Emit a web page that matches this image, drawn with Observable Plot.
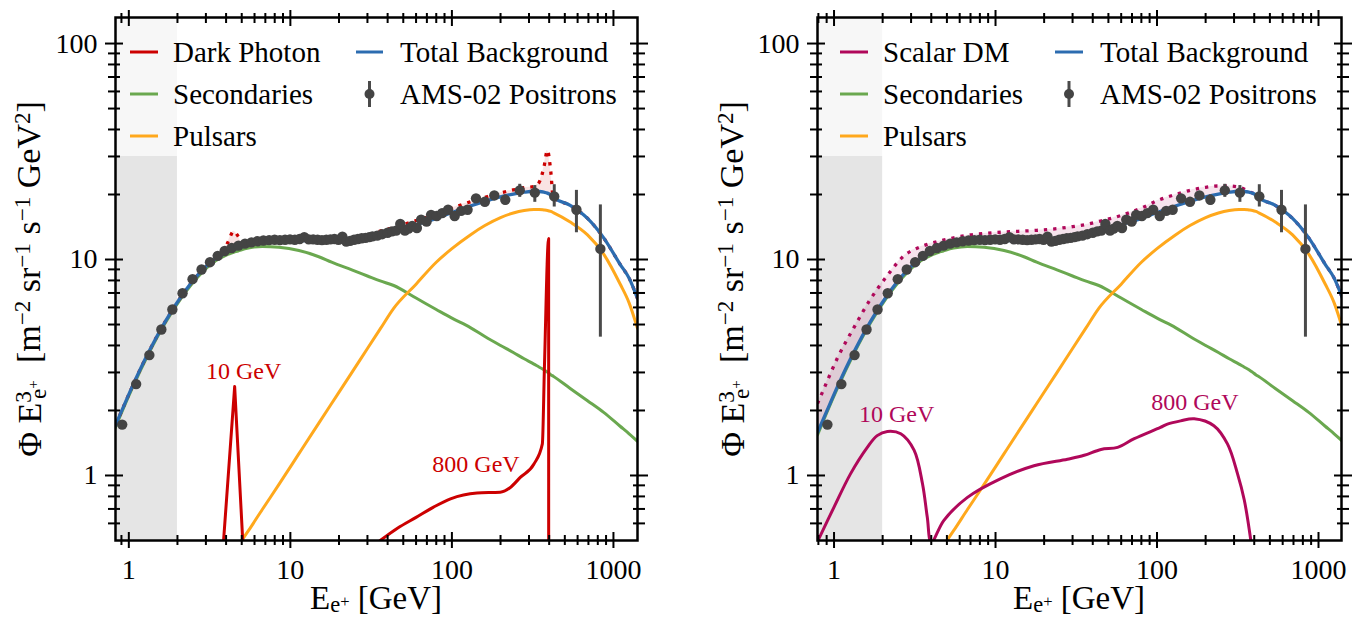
<!DOCTYPE html>
<html>
<head>
<meta charset="utf-8">
<script src="https://cdn.jsdelivr.net/npm/d3@7"></script>
<script src="https://cdn.jsdelivr.net/npm/@observablehq/plot@0.6"></script>
<style>
  html, body { margin: 0; padding: 0; background: #fff; }
  #fig { position: relative; width: 1364px; height: 618px; overflow: hidden; }
  .panel { position: absolute; top: 0; }
  .panel svg { overflow: visible; }
</style>
</head>
<body>
<div id="fig"></div>
<script>
// ---------------------------------------------------------------------------
// Positron spectrum E^3 * flux  [m^-2 sr^-1 s^-1 GeV^2]
// ---------------------------------------------------------------------------

// Shared energy grid (GeV) for the background model curves
const energy = [0.79, 0.9, 1.05, 1.33, 1.68, 2.13, 2.71, 3.43, 3.78, 4.1, 4.46, 4.75, 5.0, 5.5, 6.7, 8.5, 11.3, 15, 18, 24, 30, 36, 43.6, 60, 80, 100, 130, 160, 200, 240, 280, 322, 346, 371, 390, 409, 424, 540, 691, 870, 1100, 1250, 1409];

const secondaries = [1.54, 1.95, 2.54, 3.68, 5.08, 6.7, 8.4, 9.85, 10.25, 10.55, 10.8, 10.95, 11.1, 11.3, 11.5, 11.4, 11.0, 10.3, 9.72, 8.95, 8.39, 7.96, 7.58, 6.63, 5.87, 5.35, 4.84, 4.4, 4.0, 3.71, 3.47, 3.28, 3.18, 3.09, 3.01, 2.93, 2.88, 2.53, 2.22, 1.96, 1.69, 1.56, 1.44];

const pulsars = [null, null, null, null, null, null, null, null, null, null, null, null, 0.5, 0.555, 0.696, 0.909, 1.262, 1.748, 2.154, 2.995, 3.87, 4.77, 5.94, 7.69, 9.71, 11.23, 13.0, 14.36, 15.63, 16.42, 16.86, 17.05, 17.05, 16.96, 16.87, 16.7, 16.5, 14.9, 13.0, 10.6, 7.7, 6.3, 4.8];

const totalBackground = [1.58, 1.98, 2.58, 3.74, 5.16, 6.81, 8.58, 10.07, 10.5, 10.85, 11.1, 11.3, 11.45, 11.7, 11.95, 12.1, 12.2, 12.3, 12.35, 12.55, 12.8, 13.05, 13.5, 14.5, 15.5, 16.5, 17.7, 18.6, 19.5, 20.1, 20.5, 20.7, 20.65, 20.5, 20.3, 19.9, 19.4, 17.8, 15.5, 12.6, 9.5, 8.2, 6.6];

// Background + signal on the same grid
const darkPhotonTotal = [1.58, 1.98, 2.58, 3.74, 5.16, 6.81, 8.58, 10.07, 10.6, 12.0, 13.5, 12.8, 12.0, 11.75, 11.95, 12.1, 12.2, 12.3, 12.35, 12.55, 12.8, 13.55, 14.05, 15.15, 16.2, 17.3, 18.5, 19.4, 20.35, 21.0, 21.5, 21.8, 22.7, 26.7, 32.0, 25.7, 19.4, 17.8, 15.5, 12.6, 9.5, 8.2, 6.6];

const scalarTotal = [2.15, 2.7, 3.5, 4.85, 6.55, 8.4, 10.4, 11.45, 11.75, 11.95, 12.15, 12.3, 12.4, 12.6, 12.95, 13.2, 13.4, 13.55, 13.65, 13.9, 14.2, 14.5, 15.0, 16.0, 17.3, 18.7, 20.0, 20.9, 21.6, 21.9, 21.9, 21.6, 21.2, 20.6, 20.3, 19.9, 19.4, 17.8, 15.5, 12.6, 9.5, 8.2, 6.6];

// Dark photon signal, 10 GeV and 800 GeV masses
const darkPhotonEnergy = [3.86, 4.52, 5.07, 36, 46, 60, 77, 98, 143, 199, 230, 265, 322, 363, 374, 397, 397.5];
const darkPhotonFlux   = [0.5, 2.58, 0.5, 0.5, 0.57, 0.64, 0.714, 0.78, 0.83, 0.837, 0.88, 0.98, 1.13, 1.4, 3.2, 12.5, 0.01];
const darkPhotonMass   = [10, 10, 10, 800, 800, 800, 800, 800, 800, 800, 800, 800, 800, 800, 800, 800, 800];

// Scalar dark matter signal, 10 GeV and 800 GeV masses
const scalarEnergy = [0.796, 1.0, 1.267, 1.607, 1.85, 2.14, 2.59, 3.13, 3.53, 3.78, 4.0, 4.79, 6.67, 10.7, 17.3, 27.9, 35.4, 45, 57, 72.3, 105, 116, 140, 170, 225, 273, 315, 347, 381];
const scalarFlux   = [0.5, 0.714, 1.02, 1.35, 1.53, 1.6, 1.56, 1.31, 0.915, 0.64, 0.49, 0.62, 0.79, 0.965, 1.11, 1.19, 1.24, 1.32, 1.35, 1.48, 1.67, 1.73, 1.79, 1.83, 1.70, 1.40, 1.02, 0.77, 0.5];

// AMS-02 positron measurements
const amsEnergy = [0.91, 1.11, 1.34, 1.59, 1.86, 2.15, 2.48, 2.82, 3.18, 3.55, 3.92, 4.33, 4.77, 5.24, 5.74, 6.26, 6.81, 7.39, 7.99, 8.61, 9.27, 9.95, 10.66, 11.41, 12.19, 12.99, 13.84, 14.74, 15.69, 16.69, 17.69, 18.74, 19.84, 20.99, 22.19, 23.44, 24.79, 26.19, 27.64, 29.19, 30.79, 32.2, 34.5, 37, 40, 42.6, 45.2, 47.9, 51.2, 53.9, 56.8, 60.7, 64.5, 69.7, 74.3, 80.6, 87, 94.7, 104, 114, 125, 141, 160, 183, 214, 263, 326, 430, 590, 830];
const amsFlux   = [1.72, 2.65, 3.61, 4.74, 5.87, 6.98, 8.11, 8.99, 9.72, 10.4, 10.95, 11.3, 11.6, 11.85, 12.0, 12.15, 12.25, 12.3, 12.35, 12.3, 12.35, 12.4, 12.35, 12.45, 12.7, 12.4, 12.4, 12.35, 12.3, 12.35, 12.4, 12.45, 12.35, 12.75, 12.1, 12.2, 12.35, 12.45, 12.55, 12.6, 12.7, 12.8, 12.9, 13.1, 13.3, 13.5, 13.6, 14.6, 13.6, 13.9, 14.3, 14.0, 15.3, 15.0, 16.1, 15.9, 16.4, 17.0, 15.9, 16.8, 17.0, 19.2, 18.5, 19.8, 18.9, 20.9, 20.4, 19.6, 17.0, 11.2];
const amsErrEnergy = [214, 263, 326, 430, 590, 830];
const amsErrLow    = [17.9, 19.4, 18.4, 17.5, 13.3, 4.37];
const amsErrHigh   = [19.9, 22.3, 22.0, 22.2, 20.9, 17.9];

// Mass annotations
const massLabels = ["10 GeV", "800 GeV"];
const darkPhotonLabelEnergy = [5.14, 141];
const darkPhotonLabelFlux   = [3.03, 1.13];
const scalarLabelEnergy = [2.44, 171.7];
const scalarLabelFlux   = [1.93, 2.18];

// Axis ticks
const xMajorTicks = [1, 10, 100, 1000];
const xMinorTicks = [0.8, 0.9, 2, 3, 4, 5, 6, 7, 8, 9, 20, 30, 40, 50, 60, 70, 80, 90, 200, 300, 400, 500, 600, 700, 800, 900];
const yMajorTicks = [1, 10, 100];
const yMinorTicks = [0.6, 0.7, 0.8, 0.9, 2, 3, 4, 5, 6, 7, 8, 9, 20, 30, 40, 50, 60, 70, 80, 90];

// Low-energy region excluded from the fit
const shadeEnergy = 2;
const shadeTop = 30;
const fluxDomain = [0.5, 132];

const colors = {
  darkPhoton: "#cc0000",
  scalar: "#b0085a",
  secondaries: "#6aa84f",
  pulsars: "#ffa81c",
  total: "#2c6cb0",
  ams: "#444444"
};
const fontFamily = '"Liberation Serif", "Times New Roman", serif';

function drawPanel({left, width, xDomain, marginLeft, marginRight, color, withSignal, sigEnergy, sigFlux, sigMass, sigCurves, labelEnergy, labelFlux}) {
  const model = energy.map((e, i) => ({e, sec: secondaries[i], puls: pulsars[i], tot: totalBackground[i], sig: withSignal[i]}));
  const signal = sigEnergy.map((e, i) => ({e, f: sigFlux[i], m: sigMass[i]}));
  const points = amsEnergy.map((e, i) => ({e, f: amsFlux[i]}));
  const bars = amsErrEnergy.map((e, i) => ({e, lo: amsErrLow[i], hi: amsErrHigh[i]}));
  const labels = massLabels.map((t, i) => ({t, e: labelEnergy[i], f: labelFlux[i]}));
  const shade = [
    {x1: xDomain[0], x2: shadeEnergy, y1: fluxDomain[0], y2: shadeTop, c: "#e5e5e5"},
    {x1: xDomain[0], x2: shadeEnergy, y1: shadeTop, y2: fluxDomain[1], c: "#f7f7f7"}
  ];
  const inX = (v) => v >= xDomain[0] && v <= xDomain[1];
  const xMaj = xMajorTicks.filter(inX), xMin = xMinorTicks.filter(inX);
  // tick-only axes (labels suppressed) and label-only axes
  const tick = {stroke: "black", strokeWidth: 2, fill: "none", label: null};
  const text = {tickSize: 0, tickFormat: (d) => String(d), fontSize: 28, fill: "black", label: null};
  const smooth = "monotone-x";
  // one line per signal mass, each with its own interpolation
  const signalLines = sigCurves.map(({mass, curve}) =>
    Plot.line(signal.filter((d) => d.m === mass), {x: "e", y: "f", stroke: color, strokeWidth: 3, curve, clip: true}));

  const chart = Plot.plot({
    width, height: 618,
    marginLeft, marginRight, marginTop: 17, marginBottom: 78,
    style: {fontFamily, background: "transparent", overflow: "visible"},
    x: {type: "log", domain: xDomain},
    y: {type: "log", domain: fluxDomain},
    marks: [
      Plot.rect(shade, {x1: "x1", x2: "x2", y1: "y1", y2: "y2", fill: "c"}),
      Plot.areaY(model, {x: "e", y1: "tot", y2: "sig", fill: color, fillOpacity: 0.11, curve: smooth, clip: true}),
      Plot.line(model, {x: "e", y: "sec", stroke: colors.secondaries, strokeWidth: 3, curve: smooth, clip: true}),
      Plot.line(model, {x: "e", y: "puls", stroke: colors.pulsars, strokeWidth: 3, curve: smooth, clip: true}),
      Plot.line(model, {x: "e", y: "sig", stroke: color, strokeWidth: 3.3, strokeDasharray: "3.3,6", strokeLinecap: "butt", curve: smooth, clip: true}),
      Plot.line(model, {x: "e", y: "tot", stroke: colors.total, strokeWidth: 3.3, curve: smooth, clip: true}),
      ...signalLines,
      Plot.ruleX(bars, {x: "e", y1: "lo", y2: "hi", stroke: "#4a4a4a", strokeWidth: 3, clip: true}),
      Plot.dot(points, {x: "e", y: "f", r: 5.2, fill: colors.ams, clip: true}),
      Plot.text(labels, {x: "e", y: "f", text: "t", fill: color, fontSize: 24}),
      Plot.frame({stroke: "black", strokeWidth: 2.5}),
      Plot.axisX(xMaj, {anchor: "bottom", tickSize: 16, dy: -8, ...tick}),
      Plot.axisX(xMin, {anchor: "bottom", tickSize: 10, dy: -5, ...tick}),
      Plot.axisX(xMaj, {anchor: "top", tickSize: 16, dy: 8, ...tick}),
      Plot.axisX(xMin, {anchor: "top", tickSize: 10, dy: 5, ...tick}),
      Plot.axisY(yMajorTicks, {anchor: "left", tickSize: 18, dx: 8, ...tick}),
      Plot.axisY(yMinorTicks, {anchor: "left", tickSize: 12, dx: 5, ...tick}),
      Plot.axisY(yMajorTicks, {anchor: "right", tickSize: 18, dx: -8, ...tick}),
      Plot.axisY(yMinorTicks, {anchor: "right", tickSize: 12, dx: -5, ...tick}),
      Plot.axisX(xMaj, {anchor: "bottom", tickPadding: 19, ...text}),
      Plot.axisY(yMajorTicks, {anchor: "left", tickPadding: 18, ...text})
    ]
  });
  const holder = document.createElement("div");
  holder.className = "panel";
  holder.style.left = left + "px";
  holder.appendChild(chart);
  document.getElementById("fig").appendChild(holder);
}

drawPanel({
  left: 0, width: 682, xDomain: [0.827, 1409], marginLeft: 115, marginRight: 45,
  color: colors.darkPhoton, withSignal: darkPhotonTotal,
  sigEnergy: darkPhotonEnergy, sigFlux: darkPhotonFlux, sigMass: darkPhotonMass,
  sigCurves: [{mass: 10, curve: "linear"}, {mass: 800, curve: "monotone-x"}],
  labelEnergy: darkPhotonLabelEnergy, labelFlux: darkPhotonLabelFlux
});
drawPanel({
  left: 682, width: 682, xDomain: [0.79, 1388], marginLeft: 135, marginRight: 23,
  color: colors.scalar, withSignal: scalarTotal,
  sigEnergy: scalarEnergy, sigFlux: scalarFlux, sigMass: scalarEnergy.map(() => 0),
  sigCurves: [{mass: 0, curve: "catmull-rom"}],
  labelEnergy: scalarLabelEnergy, labelFlux: scalarLabelFlux
});

// Legends and axis titles
const overlay = d3.select("#fig").append("svg")
  .attr("width", 1364).attr("height", 618)
  .style("position", "absolute").style("left", 0).style("top", 0)
  .style("font-family", fontFamily).style("pointer-events", "none");

function legend(col1, col2, entries1, entries2) {
  const rows = [52, 94, 136];
  const g = overlay.append("g").attr("font-size", 29);
  entries1.forEach((d, i) => {
    g.append("line").attr("x1", col1[0]).attr("x2", col1[1]).attr("y1", rows[i]).attr("y2", rows[i])
      .attr("stroke", d.color).attr("stroke-width", 3);
    g.append("text").attr("x", col1[2]).attr("y", rows[i] + 10).text(d.label);
  });
  entries2.forEach((d, i) => {
    if (d.marker) {
      const cx = (col2[0] + col2[1]) / 2;
      g.append("line").attr("x1", cx).attr("x2", cx).attr("y1", rows[i] - 13).attr("y2", rows[i] + 13)
        .attr("stroke", "#4a4a4a").attr("stroke-width", 3);
      g.append("circle").attr("cx", cx).attr("cy", rows[i]).attr("r", 5).attr("fill", colors.ams);
    } else {
      g.append("line").attr("x1", col2[0]).attr("x2", col2[1]).attr("y1", rows[i]).attr("y2", rows[i])
        .attr("stroke", d.color).attr("stroke-width", 3);
    }
    g.append("text").attr("x", col2[2]).attr("y", rows[i] + 10).text(d.label);
  });
}
const bgEntries = [{label: "Secondaries", color: colors.secondaries}, {label: "Pulsars", color: colors.pulsars}];
const rightEntries = [{label: "Total Background", color: colors.total}, {label: "AMS-02 Positrons", marker: true}];
legend([130, 158, 173], [356, 383, 400], [{label: "Dark Photon", color: colors.darkPhoton}, ...bgEntries], rightEntries);
legend([840, 868, 883], [1055, 1083, 1100], [{label: "Scalar DM", color: colors.scalar}, ...bgEntries], rightEntries);

function xTitle(cx) {
  const t = overlay.append("text").attr("x", cx).attr("y", 609).attr("text-anchor", "middle").attr("font-size", 33);
  t.append("tspan").text("E");
  t.append("tspan").attr("font-size", "0.68em").attr("dy", "0.15em").text("e");
  t.append("tspan").attr("font-size", "0.5em").attr("dy", "-0.35em").text("+");
  t.append("tspan").attr("dy", "0.07em").text(" [GeV]");
}
function yTitle(bx, cy) {
  const t = overlay.append("text").attr("transform", `translate(${bx},${cy}) rotate(-90)`)
    .attr("text-anchor", "middle").attr("font-size", 34);
  const sup = (s) => { t.append("tspan").attr("font-size", "0.68em").attr("dy", "-0.4em").text(s); };
  const base = (s) => { t.append("tspan").attr("dy", "0.272em").text(s); };
  t.append("tspan").text("Φ E");
  t.append("tspan").attr("font-size", "0.68em").attr("dy", "-0.42em").text("3");
  t.append("tspan").attr("font-size", "0.68em").attr("dx", "-0.34em").attr("dy", "0.62em").text("e");
  t.append("tspan").attr("font-size", "0.45em").attr("dy", "-0.5em").text("+");
  t.append("tspan").attr("dy", "0.05em").text("\u00a0\u00a0[m");
  sup("−2"); base(" sr");
  sup("−1"); base(" s");
  sup("−1"); base(" GeV");
  sup("2"); base("]");
}
xTitle(376);
xTitle(1079);
yTitle(41, 279);
yTitle(744, 279);
</script>
</body>
</html>
